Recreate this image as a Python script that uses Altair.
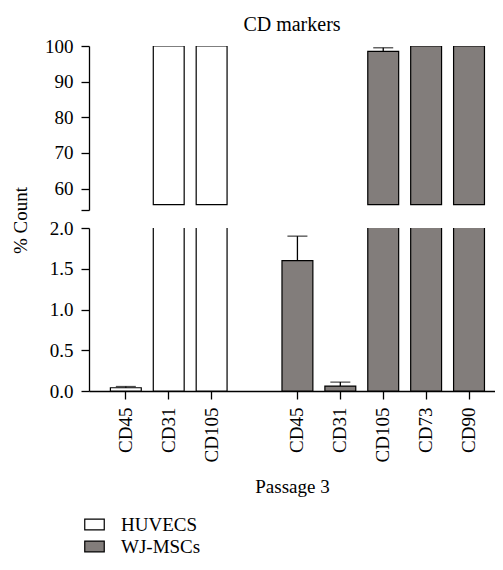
import altair as alt
import pandas as pd

FONT = "Liberation Serif"

slot_keys = ["H_CD45", "H_CD31", "H_CD105", "gap",
             "W_CD45", "W_CD31", "W_CD105", "W_CD73", "W_CD90"]
markers = ["CD45", "CD31", "CD105", "CD45", "CD31", "CD105", "CD73", "CD90"]
cells = ["HUVECS", "HUVECS", "HUVECS",
         "WJ-MSCs", "WJ-MSCs", "WJ-MSCs", "WJ-MSCs", "WJ-MSCs"]
values = [0.04, 100, 100, 1.6, 0.06, 98.5, 100, 100]
err_upper = [0.055, None, None, 1.9, 0.11, 99.5, None, None]

cell_names = ["HUVECS", "WJ-MSCs"]
cell_colors = ["#ffffff", "#827d7b"]

df = pd.DataFrame({
    "key": [("H_" if c == "HUVECS" else "W_") + m for c, m in zip(cells, markers)],
    "marker": markers,
    "cell": cells,
    "value": values,
    "err": err_upper,
})
df_err = df.dropna(subset=["err"])

tick_keys = [k for k in slot_keys if k != "gap"]

xscale = alt.Scale(domain=slot_keys, paddingInner=0.28, paddingOuter=0.372, align=0.67)


def panel(data, ydomain, height, yaxis, xaxis, legend, bar_base=None):
    y = alt.Y("value:Q", scale=alt.Scale(domain=ydomain, nice=False, zero=False), axis=yaxis)
    x = alt.X("key:N", scale=xscale, axis=xaxis, sort=slot_keys)
    enc = dict(
        x=x, y=y,
        color=alt.Color("cell:N", scale=alt.Scale(domain=cell_names, range=cell_colors), legend=legend),
    )
    if bar_base is not None:
        enc["y2"] = alt.datum(bar_base)
    bars = alt.Chart(data).mark_bar(stroke="black", strokeWidth=1.2, clip=True).encode(**enc)
    rule = alt.Chart(df_err).mark_rule(color="black", strokeWidth=1.3, clip=True).encode(
        x=alt.X("key:N", scale=xscale, sort=slot_keys, axis=xaxis),
        y=alt.Y("value:Q", axis=yaxis), y2="err:Q")
    cap = alt.Chart(df_err).mark_tick(color="black", thickness=1.3, size=20, clip=True).encode(
        x=alt.X("key:N", scale=xscale, sort=slot_keys, axis=xaxis),
        y=alt.Y("err:Q", axis=yaxis))
    return alt.layer(bars, rule, cap).properties(width=406, height=height)


top_axis = alt.Axis(
    values=[54, 60, 70, 80, 90, 100],
    labelExpr="datum.value < 55 ? '' : datum.label",
    labelOverlap=False,
    title="% Count", titleY=174, titlePadding=14,
    titleFont=FONT, titleFontSize=19, titleFontWeight="normal", titleColor="black",
)
bottom_axis = alt.Axis(values=[0, 0.5, 1.0, 1.5, 2.0], format=".1f", title=None,
                       labelOverlap=False)

bottom_x = alt.Axis(
    values=tick_keys, labelExpr="split(datum.value, '_')[1]", labelAngle=270,
    labelAlign="right", labelBaseline="middle", labelPadding=8,
    title="Passage 3", titleFont=FONT, titleFontSize=19, titleFontWeight="normal",
    titleColor="black", titlePadding=16, tickSize=8,
)

legend = alt.Legend(
    orient="none", legendX=-5, legendY=286, title=None,
    symbolType="M-1,-0.55L1,-0.55L1,0.55L-1,0.55Z", symbolSize=380,
    symbolStrokeColor="black", symbolStrokeWidth=1.2,
    labelFont=FONT, labelFontSize=19, labelColor="black", labelOffset=16,
    rowPadding=1,
)

top_data = df[df["value"] > 55.5]

top = panel(top_data, [54, 100], 164, top_axis, None, None, bar_base=55.5).properties(
    title=alt.Title("CD markers", font=FONT, fontSize=20, fontWeight="normal",
                    color="black", offset=2)
)
bottom = panel(df, [0, 2], 163, bottom_axis, bottom_x, legend)

chart = alt.vconcat(top, bottom, spacing=18, bounds="flush").resolve_legend(
    color="independent"
).properties(
    padding={"left": 3, "top": 7, "right": 0, "bottom": 5}
).configure_view(stroke=None).configure_axis(
    labelFont=FONT, labelFontSize=19, labelColor="black",
    domainColor="black", tickColor="black", domainWidth=1.3, tickWidth=1.3,
    tickSize=8, labelPadding=8, grid=False,
)

chart.save("out.html", embed_options={"renderer": "svg", "actions": False})
